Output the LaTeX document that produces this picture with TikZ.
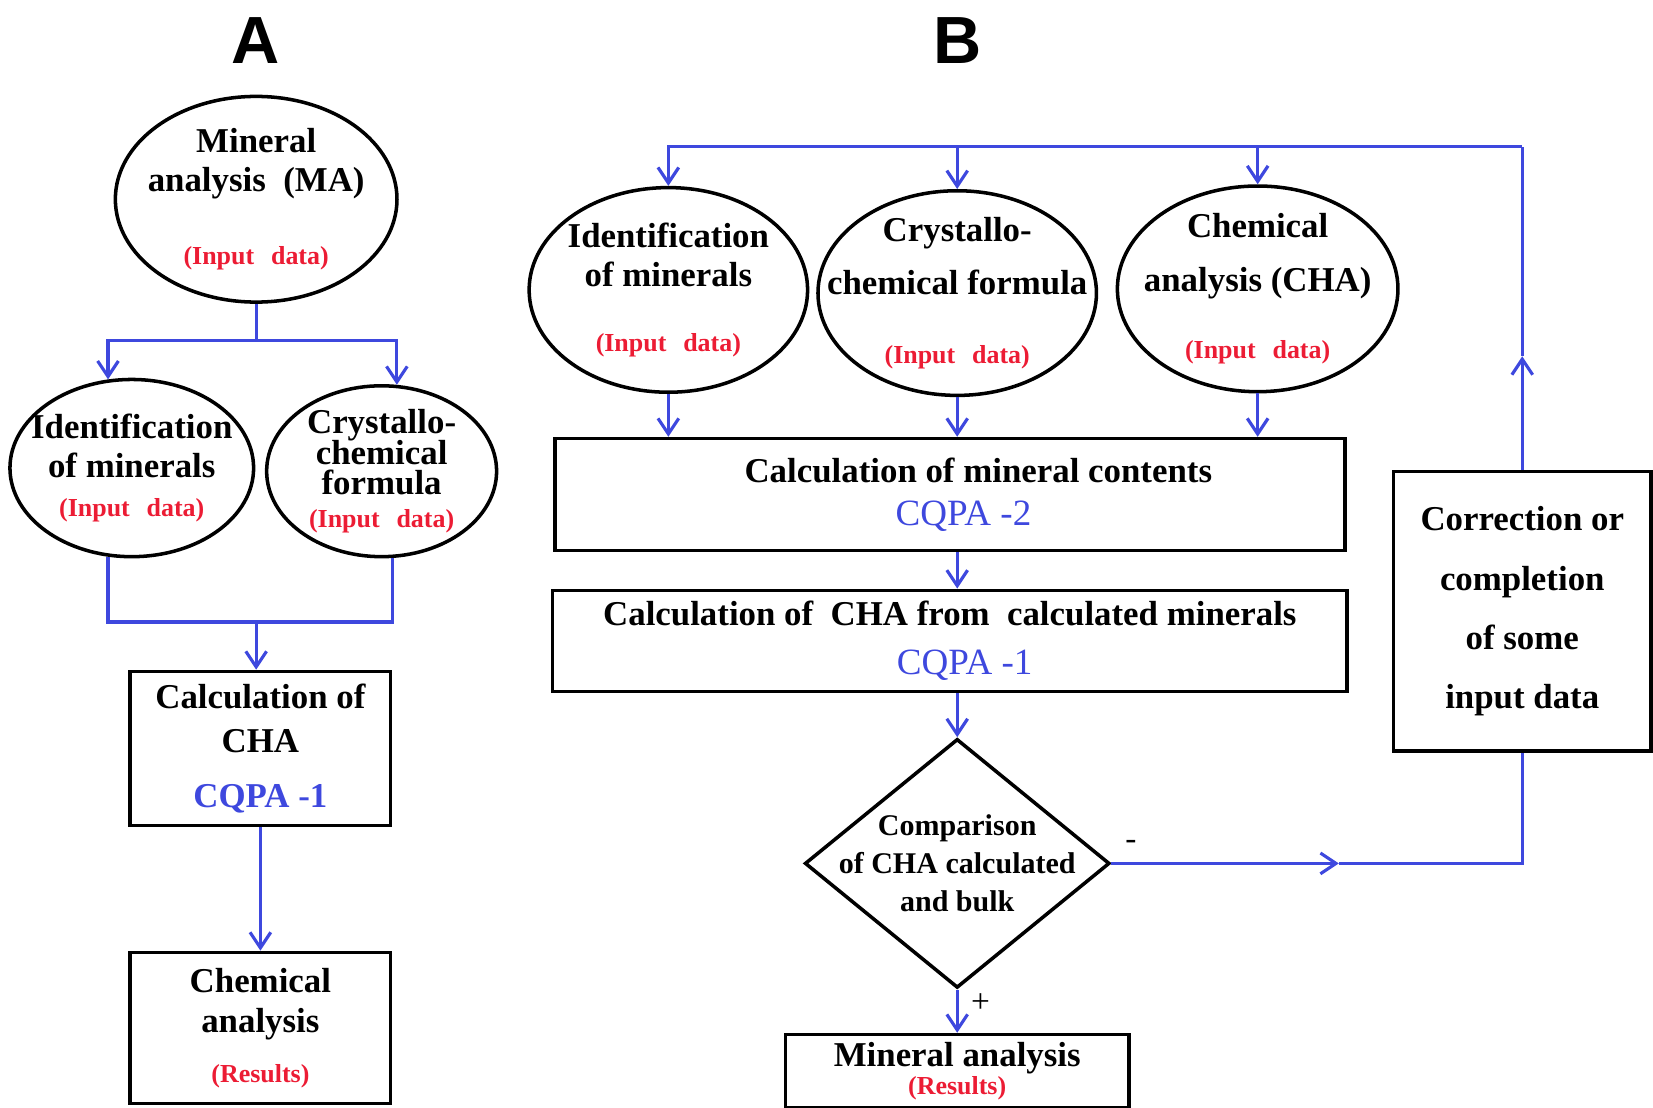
\documentclass[tikz,border=0pt]{standalone}
\usepackage{fontspec}
\setmainfont{Liberation Serif}
\newfontfamily\panelfont{Liberation Sans}
\usetikzlibrary{arrows.meta,positioning,shapes.geometric}
\definecolor{flowblue}{RGB}{62,72,222}
\definecolor{inred}{RGB}{236,28,52}
\newcommand{\inp}[1]{{\fontsize{7}{8}\selectfont\color{inred}#1}}
\newcommand{\indata}{\inp{(Input\hspace{0.65em}data)}}
\newcommand{\cqpa}[1]{{\color{flowblue}#1}}
\newcommand{\cqpathin}[1]{{\fontsize{10}{10.5}\selectfont\mdseries\color{flowblue}#1}}

\begin{document}
\begin{tikzpicture}[x=0.01cm,y=-0.01cm,>={Straight Barb[length=4.2pt,width=5.6pt]}]
	\tikzstyle{txt} = [font=\fontsize{9.4}{10.5}\selectfont\bfseries, align=center]
	\tikzstyle{ellip} = [draw, ellipse, line width=0.95pt, inner sep=-10pt, txt]
	\tikzstyle{block} = [draw, rectangle, line width=0.95pt, inner sep=2pt, txt]
	\tikzstyle{decision} = [draw, diamond, line width=0.95pt, inner sep=-8pt, txt, font=\fontsize{8.1}{10.2}\selectfont\bfseries]
	\tikzstyle{flow} = [flowblue, line width=0.85pt]
	\tikzstyle{panel} = [font=\panelfont\bfseries\fontsize{18}{20}\selectfont]
	\useasboundingbox (0,0) rectangle (1568,1051);
	
	% panel A
	\node [panel] (titleA) at (242,38) {A};
	\node [ellip, minimum width=2.67cm, minimum height=1.95cm] (ma) at (243,189) {Mineral\\analysis\enspace(MA)\\[9pt]\indata};
	\node [ellip, minimum width=2.31cm, minimum height=1.68cm] (identA) at (125,444) {Identification\\of minerals\\\indata};
	\node [ellip, minimum width=2.18cm, minimum height=1.62cm] (crA) at (362,447) {Crystallo-\\[-2pt]chemical\\[-2.5pt]formula\\[-1.5pt]\indata};
	\node [block, minimum width=2.47cm, minimum height=1.46cm] (calcA) at (247,710) {Calculation of\\[1.2pt]CHA\\[4.3pt]\cqpa{CQPA -1}};
	\node [block, minimum width=2.47cm, minimum height=1.43cm] (chemA) at (247,975) {Chemical\\[0.3pt]analysis\\[3pt]\inp{(Results)}};
	
	\coordinate (splitA) at (243,323);
	\coordinate (joinA) at (243,590);
	
	\draw [flow] (ma.south) -- (splitA);
	\draw [flow,->] (splitA) -| (identA.105);
	\draw [flow,->] (splitA) -| (crA.80);
	\draw [flow] (identA.-105) |- (joinA);
	\draw [flow] (crA.-83) |- (joinA);
	\draw [flow,->] (joinA) -- (joinA |- calcA.north);
	\draw [flow,->] (calcA.south) -- (chemA.north);
	
	% panel B
	\node [panel] (titleB) at (908,38) {B};
	\node [ellip, minimum width=2.64cm, minimum height=1.94cm] (identB) at (634,275) {Identification\\of minerals\\[7pt]\indata};
	\node [ellip, minimum width=2.64cm, minimum height=1.94cm] (crB) at (908,278) {Crystallo-\\[4pt]chemical formula\\[8pt]\indata};
	\node [ellip, minimum width=2.66cm, minimum height=1.95cm] (chB) at (1193,274) {Chemical\\[4pt]analysis (CHA)\\[7.7pt]\indata};
	\node [block, minimum width=7.49cm, minimum height=1.06cm] (calcMin) at (901,469) {\hspace*{0.54cm}Calculation of mineral contents\\[1.2pt]\hspace*{0.26cm}\cqpathin{CQPA -2}};
	\node [block, minimum width=7.53cm, minimum height=0.96cm] (calcCha) at (901,608) {Calculation of\ \ CHA from\ \ calculated minerals\\[2.6pt]\hspace*{0.28cm}\cqpathin{CQPA -1}};
	\node [decision, minimum width=2.89cm, minimum height=2.36cm] (comp) at (908,819) {Comparison\\of CHA calculated\\and bulk};
	\node [block, minimum width=3.26cm, minimum height=0.66cm] (mres) at (908,1016) {Mineral analysis\\[-2.8pt]\inp{(Results)}};
	\node [block, minimum width=2.44cm, minimum height=2.65cm] (corr) at (1444,580) {Correction or\\[5.5pt]completion\\[5.5pt]of some\\[5.5pt]input data};
	
	\coordinate (fbUp) at (1444,338);
	\coordinate (fbCorner) at (1444,139);
	\coordinate (fbRight) at (1270,819);
	
	\draw [flow,->] (corr.north) -- (fbUp);
	\draw [flow] (fbUp) -- (fbCorner);
	\draw [flow,->] (fbCorner) -| (identB.north);
	\draw [flow,->] (crB.north |- fbCorner) -- (crB.north);
	\draw [flow,->] (chB.north |- fbCorner) -- (chB.north);
	
	\draw [flow,->] (identB.south) -- (identB.south |- calcMin.north);
	\draw [flow,->] (crB.south) -- (crB.south |- calcMin.north);
	\draw [flow,->] (chB.south) -- (chB.south |- calcMin.north);
	\draw [flow,->] (calcMin.south -| comp.north) -- (calcCha.north -| comp.north);
	\draw [flow,->] (calcCha.south -| comp.north) -- (comp.north);
	\draw [flow,->] (comp.south) -- node[right, black, font=\fontsize{9}{10}\selectfont, pos=0.3]{+} (mres.north);
	\draw [flow,->] (comp.east) -- node[above right, black, font=\fontsize{9}{10}\selectfont, pos=0.0]{-} (fbRight);
	\draw [flow] (fbRight) -| (corr.south);
	
\end{tikzpicture}
\end{document}
